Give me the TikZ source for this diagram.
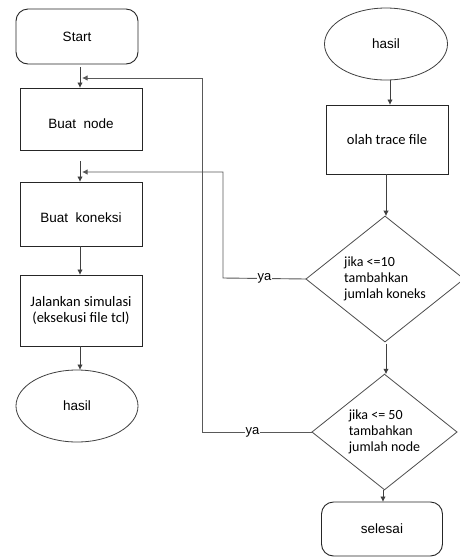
\documentclass[tikz,border=0pt]{standalone}
\usepackage{fontspec}
\setmainfont{Liberation Sans}
\newfontfamily\calibfont{Carlito}
\usetikzlibrary{shapes.geometric,arrows.meta}
\begin{document}
\begin{tikzpicture}[x=1pt,y=-1pt,
  every node/.style={inner sep=0pt, outer sep=0pt},
  boxstyle/.style={draw=black!85, line width=0.9pt, rectangle, minimum width=122pt},
  roundbox/.style={boxstyle, rounded corners=12pt},
  ellstyle/.style={draw=black!75, line width=0.8pt, ellipse, minimum width=122pt, minimum height=72pt},
  decision/.style={draw=black!70, line width=0.8pt, diamond, align=left, font=\calibfont\fontsize{14}{16}\selectfont},
  arialtxt/.style={font=\fontsize{13.5}{16}\selectfont},
  calibtxt/.style={font=\calibfont\fontsize{14.5}{16}\selectfont, align=center},
  flow/.style={draw=black!75, line width=0.9pt, -{Latex[length=5.5pt,width=5.5pt]}},
  loopline/.style={draw=black!65, line width=0.9pt, -{Latex[length=5.5pt,width=5.5pt]}},
  yalabel/.style={fill=white, inner sep=1pt, font=\fontsize{13}{15}\selectfont}
]
\useasboundingbox (0,0) rectangle (460,558);
\fill[white] (0,0) rectangle (460,558);

% left column
\node[roundbox, arialtxt, minimum height=55pt] (start) at (77,36.5) {Start};
\node[boxstyle, arialtxt, minimum height=62pt, text height=19.5pt, text depth=0pt] (bnode) at (81,119) {Buat\ \ node};
\node[boxstyle, arialtxt, minimum height=64pt, text height=17.5pt, text depth=0pt] (bkon) at (81,214) {Buat\ \ koneksi};
\node[boxstyle, calibtxt, minimum height=71pt] (jal) at (81,310.5) {Jalankan simulasi\\(eksekusi file tcl)};
\node[ellstyle, arialtxt] (hasilA) at (77,406) {hasil};

% right column
\node[ellstyle, arialtxt, minimum width=123pt] (hasilB) at (386,44) {hasil};
\node[boxstyle, calibtxt, minimum height=69pt] (olah) at (387,139.5) {olah trace file};
\node[decision, minimum width=158pt, minimum height=108pt] (dA) at (385,279) {jika <=10\\tambahkan\\jumlah koneks};
\node[decision, minimum width=145pt, minimum height=94pt] (dB) at (384.5,432) {jika <= 50\\tambahkan\\jumlah node};
\node[roundbox, arialtxt, minimum width=121pt, minimum height=54pt] (sel) at (382,529) {selesai};

% helper coordinates
\coordinate (inA) at (82,78);
\coordinate (inB) at (82,172);
\coordinate (cA) at (223,278);
\coordinate (cB) at (202,432);

% main flow
\draw[flow, shorten <=3pt] (start.south -| 80,0) -- (80,88);
\draw[flow, shorten <=11pt] (bnode.south -| 80,0) -- (80,182);
\draw[flow] (bkon.south -| 80,0) -- (80,275);
\draw[flow] (jal.south -| 80,0) -- (hasilA.north -| 80,0);

\draw[flow] (hasilB.south -| 390,0) -- (olah.north -| 390,0);
\draw[flow] (olah.south -| 386,0) -- (dA.north -| 386,0);
\draw[flow, shorten <=2pt] (dA.south -| 386,0) -- (dB.north -| 386,0);
\draw[flow] (dB.south -| 383,0) -- (sel.north -| 383,0);

% loops
\draw[loopline] (dA.west) -- node[yalabel]{ya} (cA) |- (inB);
\draw[loopline] (dB.west) -- node[yalabel, pos=0.54]{ya} (cB) |- (inA);
\end{tikzpicture}
\end{document}
